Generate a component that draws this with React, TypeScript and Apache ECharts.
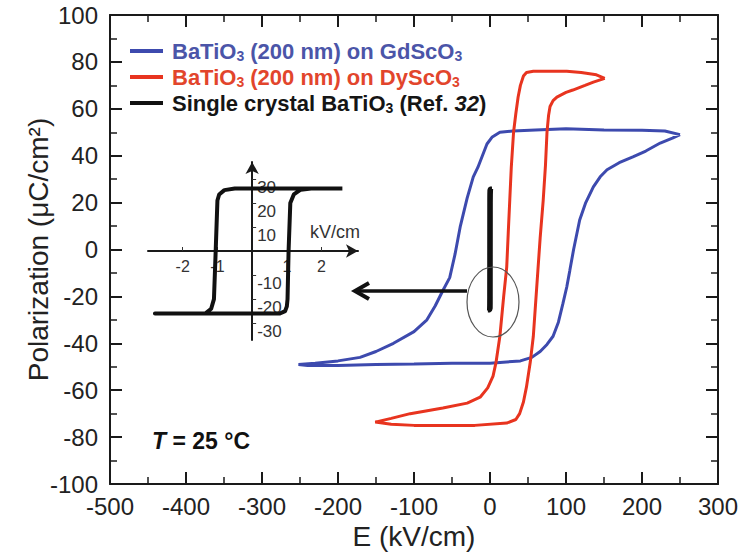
import React, { useEffect, useRef } from 'react';
import * as echarts from 'echarts';

const FONT = '"Liberation Sans", Arial, Helvetica, sans-serif';

const seriesNames = [
  'BaTiO3 (200 nm) on GdScO3',
  'BaTiO3 (200 nm) on DyScO3',
  'Single crystal BaTiO3 (Ref. 32)',
];
const legendLabels = [
  '{g| }{n|BaTiO}{s|3}{n| (200 nm) on GdScO}{s|3}',
  '{g| }{n|BaTiO}{s|3}{n| (200 nm) on DyScO}{s|3}',
  '{g| }{n|Single crystal BaTiO}{s|3}{n| (Ref. }{i|32}{n|)}',
];
const seriesColors = ['#3d4aae', '#e8341f', '#111111'];
const legendTextColors = ['#4b55a8', '#e2452c', '#151515'];

// Main axes
const xTicksMain = { min: -500, max: 300, step: 100 };
const yTicksMain = { min: -100, max: 100, step: 20 };
const xAxisTitle = 'E (kV/cm)';
const yAxisTitle = 'Polarization (μC/cm²)';

// BaTiO3 on GdScO3 (blue) loop, E in kV/cm, P in μC/cm²
const blueE = [250, 230, 200, 150, 100, 60, 30, 13, 3, -4, -10, -16, -22, -30, -39, -46, -53, -62, -72, -83, -100, -127, -150, -171, -200, -230, -252,
  -240, -200, -150, -100, -50, 0, 40, 55, 66, 75, 83, 90, 96, 101, 105, 110, 118, 126, 136, 145, 154, 170, 188, 205, 224, 240, 250];
const blueP = [49, 50.5, 50.8, 51, 51.5, 51, 50.5, 50, 48, 45, 40, 35, 31, 22, 10, -2, -12, -17.5, -24, -30, -35, -40, -43.5, -46, -47.5, -48.5, -49,
  -49.5, -49.5, -49, -48.8, -48.5, -48.5, -47.5, -46, -43.5, -40.5, -37, -31, -23, -16, -9, 0, 12.6, 20, 26.7, 31, 34, 37, 39.5, 42, 45.4, 47.5, 49];

// BaTiO3 on DyScO3 (red) loop
const redE = [151, 140, 120, 101, 80, 57, 48, 44, 40, 37, 34, 31, 28, 26, 24, 22, 18, 13, 8, 4, -3, -13, -30, -62, -105, -130, -151,
  -130, -100, -60, -20, 22, 34, 39, 44, 48, 53, 57, 60, 63, 66, 70, 73, 75, 77, 79, 83, 88, 100, 109, 125, 136, 151];
const redP = [73, 74.5, 75.5, 76, 76, 76, 75.5, 74, 70, 65, 58, 50, 35, 21, 7, -7.5, -20, -37, -48, -54, -59, -63, -65.5, -67.6, -70, -72, -73.6,
  -74.5, -75, -75, -75, -74, -72.5, -70, -65, -58.6, -48, -37, -23, -9, 5, 21, 36, 50, 57, 61, 63.5, 65, 67, 68, 70, 71.4, 73];

// Single crystal BaTiO3 loop (Ref. 32), E in kV/cm
const scE = [2.6, 1.5, 0, -0.5, -0.8, -0.95, -1.0, -1.05, -1.1, -1.18, -1.35, -2, -2.8,
  -1.35, 0, 0.8, 0.95, 1.0, 1.02, 1.05, 1.1, 1.2, 1.4, 1.7, 2.6];
const scP = [26, 26, 26, 26, 25.3, 23.5, 21, 0, -20, -24, -26, -26, -26,
  -26, -26, -26, -25, -23, -20, 0, 20, 23.5, 25.5, 26, 26];

// Inset axes
const insetXRange = { min: -3, max: 3.05 };
const insetYRange = { min: -37, max: 37 };
const insetXTicks = [-2, -1, 1, 2];
const insetYTicks = [-30, -20, -10, 10, 20, 30];
const insetUnit = 'kV/cm';
const tempLabel = '{i|T}{n| = 25 °C}';

const pairs = (xs: number[], ys: number[]) => xs.map((x, i) => [x, ys[i]]);

// inset grid box (pixels)
const INSET = { left: 148, right: 358, top: 162, bottom: 340 };

export default function App() {
  const ref = useRef<HTMLDivElement>(null);
  useEffect(() => {
    if (!ref.current) return;
    const chart = echarts.init(ref.current, null, { renderer: 'svg' });
    const axisLine = { show: true, onZero: false, lineStyle: { color: '#1a1a1a', width: 2 } };
    const mainTick = { show: true, inside: true, length: 12, lineStyle: { color: '#1a1a1a', width: 2 } };
    const mainMinor = { show: true, splitNumber: 2, length: 7, lineStyle: { color: '#1a1a1a', width: 1.5 } };
    const xLabel = { fontFamily: FONT, fontSize: 24, color: '#222', margin: 10, lineHeight: 24 };
    const yLabel = { fontFamily: FONT, fontSize: 24, color: '#222', margin: 12 };

    const legendRichBase = {
      g: { width: 4 },
      n: { fontFamily: FONT, fontSize: 22, fontWeight: 'bold', lineHeight: 24 },
      s: { fontFamily: FONT, fontSize: 14, fontWeight: 'bold', lineHeight: 10, verticalAlign: 'bottom' },
      i: { fontFamily: FONT, fontSize: 22, fontWeight: 'bold', fontStyle: 'italic', lineHeight: 24 },
    };

    // offsets that put the inset axes through the origin
    const yZeroPx = INSET.top + (insetYRange.max / (insetYRange.max - insetYRange.min)) * (INSET.bottom - INSET.top);
    const xZeroPx = INSET.left + ((0 - insetXRange.min) / (insetXRange.max - insetXRange.min)) * (INSET.right - INSET.left);

    const option: any = {
      animation: false,
      backgroundColor: '#ffffff',
      grid: [
        { left: 110, right: 27, top: 15, bottom: 68, containLabel: false, outerBoundsMode: 'none' },
        { left: INSET.left, right: 745 - INSET.right, top: INSET.top, bottom: 552 - INSET.bottom, containLabel: false, outerBoundsMode: 'none' },
      ],
      legend: {
        orient: 'vertical',
        left: 125,
        top: 35,
        icon: 'rect',
        itemWidth: 33,
        itemHeight: 4,
        itemGap: 3,
        selectedMode: false,
        data: seriesNames.map((name, k) => ({
          name,
          textStyle: { color: legendTextColors[k] },
        })),
        formatter: (name: string) => legendLabels[seriesNames.indexOf(name)],
        textStyle: { fontFamily: FONT, fontSize: 22, fontWeight: 'bold', rich: legendRichBase },
      },
      xAxis: [
        {
          type: 'value', gridIndex: 0, position: 'bottom',
          min: xTicksMain.min, max: xTicksMain.max, interval: xTicksMain.step,
          axisLine, axisTick: mainTick, minorTick: mainMinor,
          axisLabel: xLabel, splitLine: { show: false },
          name: xAxisTitle, nameLocation: 'middle', nameGap: 38, nameMoveOverlap: false,
          nameTextStyle: { fontFamily: FONT, fontSize: 28, color: '#222', lineHeight: 28 },
        },
        {
          type: 'value', gridIndex: 0, position: 'top',
          min: xTicksMain.min, max: xTicksMain.max, interval: xTicksMain.step,
          axisLine, axisTick: mainTick, minorTick: mainMinor,
          axisLabel: { show: false }, splitLine: { show: false },
        },
        {
          type: 'value', gridIndex: 1, position: 'bottom',
          offset: -(INSET.bottom - yZeroPx),
          min: insetXRange.min, max: insetXRange.max,
          axisLine: { show: true, onZero: false, symbol: ['none', 'arrow'], symbolSize: [10, 12], lineStyle: { color: '#1a1a1a', width: 2 } },
          axisTick: { show: true, inside: true, length: 4, customValues: insetXTicks, lineStyle: { color: '#333', width: 1 } },
          axisLabel: { show: true, customValues: insetXTicks, fontFamily: FONT, fontSize: 16, color: '#333', margin: 7 },
          splitLine: { show: false },
        },
      ],
      yAxis: [
        {
          type: 'value', gridIndex: 0, position: 'left',
          min: yTicksMain.min, max: yTicksMain.max, interval: yTicksMain.step,
          axisLine, axisTick: mainTick, minorTick: mainMinor,
          axisLabel: yLabel, splitLine: { show: false },
          name: yAxisTitle, nameLocation: 'middle', nameGap: 58, nameMoveOverlap: false,
          nameTextStyle: { fontFamily: FONT, fontSize: 28, color: '#222' },
        },
        {
          type: 'value', gridIndex: 0, position: 'right',
          min: yTicksMain.min, max: yTicksMain.max, interval: yTicksMain.step,
          axisLine, axisTick: mainTick, minorTick: mainMinor,
          axisLabel: { show: false }, splitLine: { show: false },
        },
        {
          type: 'value', gridIndex: 1, position: 'left',
          offset: -(xZeroPx - INSET.left),
          min: insetYRange.min, max: insetYRange.max,
          axisLine: { show: true, onZero: false, symbol: ['none', 'arrow'], symbolSize: [10, 12], lineStyle: { color: '#1a1a1a', width: 2 } },
          axisTick: { show: true, inside: true, length: 4, customValues: insetYTicks, lineStyle: { color: '#333', width: 1 } },
          axisLabel: { show: true, inside: true, customValues: insetYTicks, fontFamily: FONT, fontSize: 17, color: '#333', margin: 5, verticalAlign: 'top' },
          splitLine: { show: false },
        },
      ],
      series: [
        {
          name: seriesNames[0], type: 'line', xAxisIndex: 0, yAxisIndex: 0,
          data: pairs(blueE, blueP), showSymbol: false, symbol: 'none',
          lineStyle: { color: seriesColors[0], width: 3 }, itemStyle: { color: seriesColors[0] }, z: 3,
        },
        {
          name: seriesNames[1], type: 'line', xAxisIndex: 0, yAxisIndex: 0,
          data: pairs(redE, redP), showSymbol: false, symbol: 'none',
          lineStyle: { color: seriesColors[1], width: 3 }, itemStyle: { color: seriesColors[1] }, z: 3,
        },
        {
          name: seriesNames[2], type: 'line', xAxisIndex: 0, yAxisIndex: 0,
          data: pairs(scE, scP), showSymbol: false, symbol: 'none',
          lineStyle: { color: seriesColors[2], width: 4 }, itemStyle: { color: seriesColors[2] }, z: 3,
        },
        {
          name: seriesNames[2], type: 'line', xAxisIndex: 2, yAxisIndex: 2,
          data: pairs(scE, scP), showSymbol: false, symbol: 'none',
          lineStyle: { color: seriesColors[2], width: 4, join: 'round' }, itemStyle: { color: seriesColors[2] }, z: 3,
        },
      ],
      graphic: [
        {
          type: 'ellipse', shape: { cx: 493, cy: 302, rx: 26, ry: 35 },
          style: { fill: 'none', stroke: '#555', lineWidth: 1.2 }, z: 10,
        },
        {
          type: 'line', shape: { x1: 467, y1: 291, x2: 356, y2: 291 },
          style: { stroke: '#111', lineWidth: 3.5 }, z: 10,
        },
        {
          type: 'polyline', shape: { points: [[369, 283], [355, 291], [369, 299]] },
          style: { stroke: '#111', lineWidth: 4, fill: 'none', lineJoin: 'miter' }, z: 10,
        },
        {
          type: 'text', left: 310, top: 223,
          style: { text: insetUnit, fontFamily: FONT, fontSize: 18, fill: '#333' }, z: 10,
        },
        {
          type: 'text', left: 152, top: 429,
          style: {
            text: tempLabel,
            rich: {
              i: { fontFamily: FONT, fontSize: 23, fontWeight: 'bold', fontStyle: 'italic', fill: '#111' },
              n: { fontFamily: FONT, fontSize: 23, fontWeight: 'bold', fill: '#111' },
            },
          }, z: 10,
        },
      ],
    };
    chart.setOption(option);
    return () => chart.dispose();
  }, []);
  return (
    <div
      ref={ref}
      style={{ position: 'fixed', left: 0, top: 0, width: 745, height: 552, background: '#fff' }}
    />
  );
}
